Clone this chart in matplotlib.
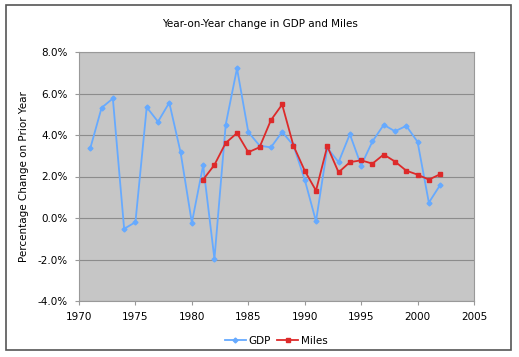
import numpy as np
import matplotlib
matplotlib.use("Agg")
from matplotlib import pyplot as plt
from matplotlib.patches import Rectangle
from matplotlib.ticker import FuncFormatter

# yearly % change
gdp_years = list(range(1971, 2003))
gdp = [3.36, 5.31, 5.76, -0.52, -0.20, 5.34, 4.64, 5.56, 3.17, -0.23,
       2.54, -1.97, 4.50, 7.21, 4.14, 3.49, 3.40, 4.15, 3.50, 1.85,
       -0.16, 3.38, 2.69, 4.04, 2.53, 3.69, 4.49, 4.18, 4.44, 3.67,
       0.74, 1.59]

miles_years = list(range(1981, 2003))
miles = [1.85, 2.56, 3.62, 4.09, 3.17, 3.41, 4.71, 5.47, 3.49, 2.28,
         1.32, 3.46, 2.20, 2.69, 2.78, 2.62, 3.06, 2.72, 2.28, 2.09,
         1.85, 2.11]

x_ticks = [1970, 1975, 1980, 1985, 1990, 1995, 2000, 2005]
y_ticks = [-4, -2, 0, 2, 4, 6, 8]

plt.rcParams['font.family'] = 'DejaVu Sans'
fig = plt.figure(figsize=(5.19, 3.57), dpi=100)
fig.patch.set_facecolor('white')
# outer chart border
fig.patches.append(Rectangle((6/519, 7/357), 505/519, 345/357, transform=fig.transFigure,
                             fill=False, edgecolor='#555555', linewidth=1.2))

ax = fig.add_axes([79/519, 56/357, 395/519, 249/357])
ax.set_facecolor('#c6c6c6')
for s in ax.spines.values():
    s.set_color('#999999')
    s.set_linewidth(0.8)

ax.plot(gdp_years, gdp, color='#66aaff', marker='D', markersize=2.5,
        linewidth=1.3, label='GDP', zorder=3)
ax.plot(miles_years, miles, color='#dd2a2a', marker='s', markersize=3.5,
        linewidth=1.3, label='Miles', zorder=4)

ax.set_xlim(1970, 2005)
ax.set_ylim(-4, 8)
ax.set_xticks(x_ticks)
ax.set_yticks(y_ticks)
ax.yaxis.set_major_formatter(FuncFormatter(lambda v, p: '%.1f%%' % v))
ax.yaxis.grid(True, color='#8c8c8c', linewidth=0.8)
ax.set_axisbelow(True)
ax.tick_params(labelsize=7.5, length=3, color='#999999', pad=5)

ax.set_ylabel('Percentage Change on Prior Year', fontsize=7.5, labelpad=6)
fig.text(0.5, 1 - 24/357, 'Year-on-Year change in GDP and Miles',
         ha='center', va='center', fontsize=7.5)

ax.legend(loc='center', bbox_to_anchor=(0.5, -0.16), ncol=2, frameon=False,
          fontsize=7.5, handlelength=2, handletextpad=0.3, columnspacing=0.6)

fig.savefig('out.png', dpi=100)
